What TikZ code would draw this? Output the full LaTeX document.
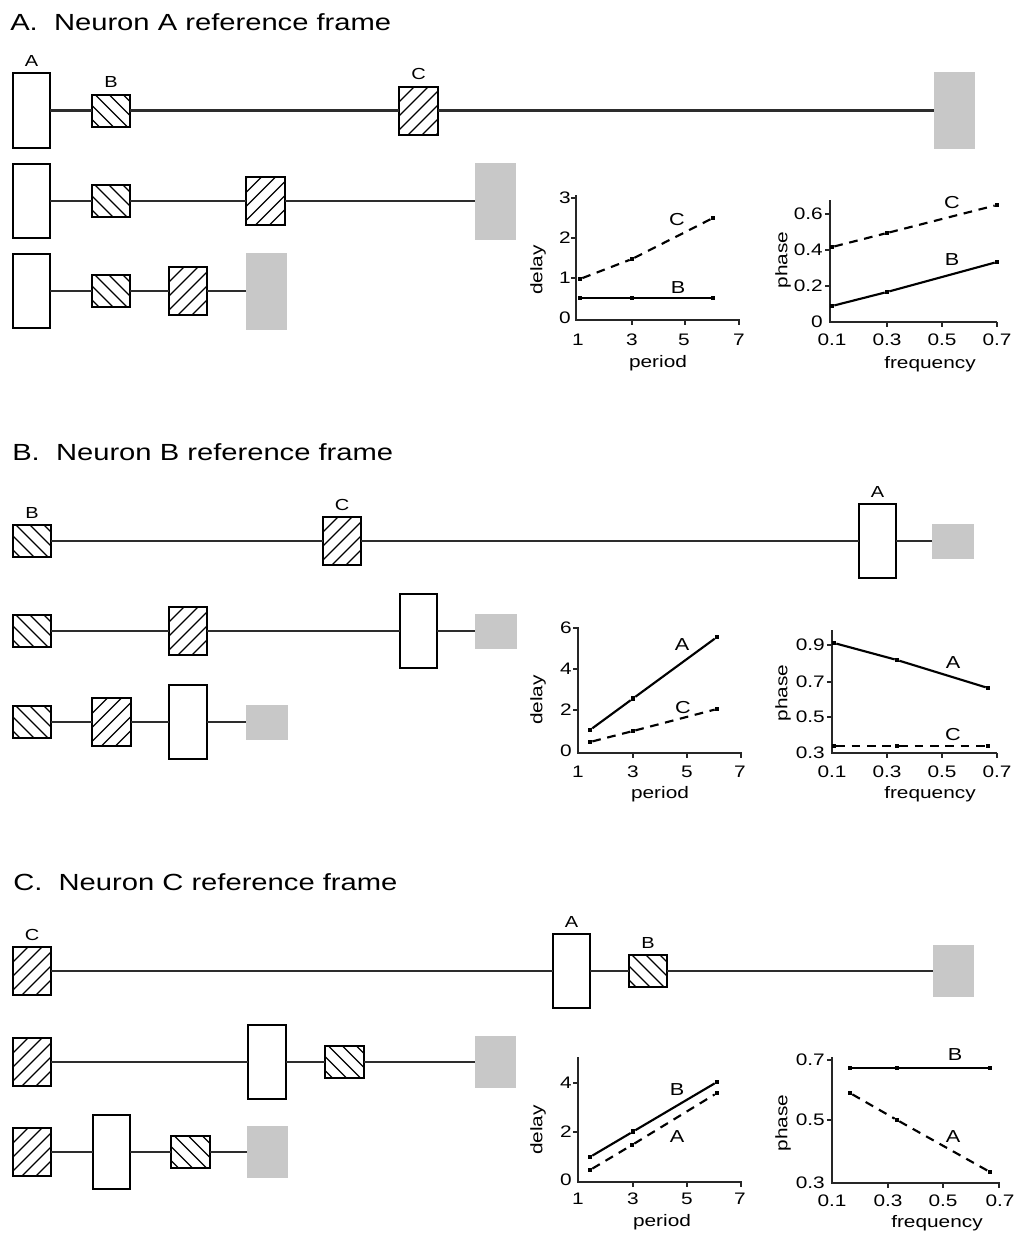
\documentclass[tikz,border=0pt]{standalone}
\usepackage{fontspec}
\setmainfont[FakeStretch=1.25]{Liberation Sans}
\usetikzlibrary{positioning}
\definecolor{greybox}{RGB}{200,200,200}
\definecolor{linec}{RGB}{45,45,45}
\begin{document}
\begin{tikzpicture}[x=0.75pt,y=-0.75pt,
 nbox/.style={draw=black,line width=1.5pt,fill=white,inner sep=0pt,outer sep=0pt},
 boxA/.style={nbox,minimum width=27.8pt,minimum height=55.6pt},
 boxB/.style={nbox,minimum width=28.6pt,minimum height=24pt,
   path picture={\foreach \k in {-4,...,4} \draw[line width=0.85pt] ([xshift=\k*10.5pt]path picture bounding box.center) ++(-30pt,30pt) -- ++(60pt,-60pt);}},
 boxC/.style={nbox,minimum width=28.6pt,minimum height=36pt,
   path picture={\foreach \k in {-5,...,5} \draw[line width=0.85pt] ([xshift=\k*10.5pt]path picture bounding box.center) ++(-30pt,-30pt) -- ++(60pt,60pt);}},
 gbox/.style={fill=greybox,inner sep=0pt,outer sep=0pt},
 gA/.style={gbox,minimum width=30.75pt,minimum height=57.75pt},
 gB/.style={gbox,minimum width=31.5pt,minimum height=26.25pt},
 gC/.style={gbox,minimum width=30.75pt,minimum height=39pt},
 conn/.style={draw=linec,line width=1.6pt},
 blbl/.style={font=\fontsize{12}{14}\selectfont,inner sep=0pt,outer sep=0pt},
 ttl/.style={font=\fontsize{17.5}{20}\selectfont,anchor=base west,inner sep=0pt},
 tlbl/.style={font=\fontsize{12.5}{14}\selectfont,inner sep=0pt},
 ylbl/.style={tlbl,anchor=east},
 xlbl/.style={tlbl,anchor=base},
 axlbl/.style={font=\fontsize{12.5}{14}\selectfont,inner sep=0pt},
 plbl/.style={font=\fontsize{13}{15}\selectfont,inner sep=0pt},
 axis/.style={draw=black!85,line width=2pt},
 tk/.style={draw=black!85,line width=1.2pt},
 dpt/.style={fill=black,inner sep=0pt,minimum size=3.5pt,outer sep=0pt},
 sline/.style={draw=black,line width=1.6pt},
 dline/.style={draw=black,line width=1.6pt,dash pattern=on 6.5pt off 5pt},
]
\useasboundingbox[fill=white] (0,0) rectangle (1017,1235);

% ================= Panel A =================
\node[ttl] (tA) at (10,30.5) {A.\ \ Neuron A reference frame};
% row 1
\node[boxA] (aA1) at (31.5,110.5) {};
\node[boxB] (aB1) at (111,110.5) {};
\node[boxC] (aC1) at (418.5,110.5) {};
\node[gA]   (aG1) at (954,110.5) {};
\draw[conn] (aA1.east) -- (aB1.west) (aB1.east) -- (aC1.west) (aC1.east) -- (aG1.west);
\node[blbl,above=5pt of aA1] {A};
\node[blbl,above=5pt of aB1] {B};
\node[blbl,above=5pt of aC1] {C};
% row 2
\node[boxA] (aA2) at (31.5,201) {};
\node[boxB] (aB2) at (111,201) {};
\node[boxC] (aC2) at (265.5,201) {};
\node[gA]   (aG2) at (495.5,201) {};
\draw[conn] (aA2.east) -- (aB2.west) (aB2.east) -- (aC2.west) (aC2.east) -- (aG2.west);
% row 3
\node[boxA] (aA3) at (31.5,291) {};
\node[boxB] (aB3) at (111,291) {};
\node[boxC] (aC3) at (188,291) {};
\node[gA]   (aG3) at (266,291) {};
\draw[conn] (aA3.east) -- (aB3.west) (aB3.east) -- (aC3.west) (aC3.east) -- (aG3.west);

% chart A1 delay
\draw[axis] (576,195) -- (576,320) -- (740,320);
\foreach \x in {632,685,739} \draw[tk] (\x,320) -- (\x,325);
\foreach \y in {198,238,278} \draw[tk] (576,\y) -- (571,\y);
\foreach \y/\t in {198/3,238/2,278/1,318/0} \node[ylbl] at (571,\y) {\t};
\foreach \x/\t in {578/1,632/3,684/5,739/7} \node[xlbl] at (\x,345) {\t};
\node[axlbl,anchor=base] at (658,367) {period};
\node[axlbl,rotate=90] at (538,270) {delay};
\node[dpt] (a1c1) at (580,279) {};
\node[dpt] (a1c2) at (632,259) {};
\node[dpt] (a1c3) at (713,218) {};
\draw[dline] (a1c1) -- (a1c2) -- (a1c3);
\node[dpt] (a1b1) at (580,298) {};
\node[dpt] (a1b2) at (632,298) {};
\node[dpt] (a1b3) at (713,298) {};
\draw[sline] (a1b1) -- (a1b2) -- (a1b3);
\node[plbl] at (677,220) {C};
\node[plbl] at (678,288) {B};

% chart A2 phase
\draw[axis] (830,200) -- (830,322) -- (997,322);
\foreach \x in {887,942,997} \draw[tk] (\x,322) -- (\x,327);
\foreach \y in {214,250,286} \draw[tk] (830,\y) -- (825,\y);
\foreach \y/\t in {214/0.6,250/0.4,286/0.2,322/0} \node[ylbl] at (823,\y) {\t};
\foreach \x/\t in {832/0.1,887/0.3,942/0.5,997/0.7} \node[xlbl] at (\x,345) {\t};
\node[axlbl,anchor=base] at (930,368) {frequency};
\node[axlbl,rotate=90] at (783,260) {phase};
\node[dpt] (a2c1) at (832,247) {};
\node[dpt] (a2c2) at (887,233) {};
\node[dpt] (a2c3) at (997,205) {};
\draw[dline] (a2c1) -- (a2c2) -- (a2c3);
\node[dpt] (a2b1) at (832,306) {};
\node[dpt] (a2b2) at (887,292) {};
\node[dpt] (a2b3) at (997,262) {};
\draw[sline] (a2b1) -- (a2b2) -- (a2b3);
\node[plbl] at (952,203) {C};
\node[plbl] at (952,260) {B};

% ================= Panel B =================
\node[ttl] (tB) at (12,460.5) {B.\ \ Neuron B reference frame};
% row 1
\node[boxB] (bB1) at (32,541) {};
\node[boxC] (bC1) at (342,541) {};
\node[boxA] (bA1) at (877.5,541) {};
\node[gB]   (bG1) at (953,541) {};
\draw[conn] (bB1.east) -- (bC1.west) (bC1.east) -- (bA1.west) (bA1.east) -- (bG1.west);
\node[blbl,above=5pt of bB1] {B};
\node[blbl,above=5pt of bC1] {C};
\node[blbl,above=5pt of bA1] {A};
% row 2
\node[boxB] (bB2) at (32,631) {};
\node[boxC] (bC2) at (188,631) {};
\node[boxA] (bA2) at (418.5,631) {};
\node[gB]   (bG2) at (495.5,631) {};
\draw[conn] (bB2.east) -- (bC2.west) (bC2.east) -- (bA2.west) (bA2.east) -- (bG2.west);
% row 3
\node[boxB] (bB3) at (32,722) {};
\node[boxC] (bC3) at (111.5,722) {};
\node[boxA] (bA3) at (188,722) {};
\node[gB]   (bG3) at (266.5,722) {};
\draw[conn] (bB3.east) -- (bC3.west) (bC3.east) -- (bA3.west) (bA3.east) -- (bG3.west);

% chart B1 delay
\draw[axis] (578,627) -- (578,753) -- (742,753);
\foreach \x in {633,687,741} \draw[tk] (\x,753) -- (\x,758);
\foreach \y in {628,669,710} \draw[tk] (578,\y) -- (573,\y);
\foreach \y/\t in {628/6,669/4,710/2,751/0} \node[ylbl] at (572,\y) {\t};
\foreach \x/\t in {578/1,633/3,687/5,740/7} \node[xlbl] at (\x,777) {\t};
\node[axlbl,anchor=base] at (660,798) {period};
\node[axlbl,rotate=90] at (538,700) {delay};
\node[dpt] (b1a1) at (590,730) {};
\node[dpt] (b1a2) at (633,698.5) {};
\node[dpt] (b1a3) at (717,637) {};
\draw[sline] (b1a1) -- (b1a2) -- (b1a3);
\node[dpt] (b1c1) at (590,742) {};
\node[dpt] (b1c2) at (633,731) {};
\node[dpt] (b1c3) at (717,709) {};
\draw[dline] (b1c1) -- (b1c2) -- (b1c3);
\node[plbl] at (682,645) {A};
\node[plbl] at (683,708) {C};

% chart B2 phase
\draw[axis] (832,630) -- (832,753) -- (997,753);
\foreach \x in {887,942,997} \draw[tk] (\x,753) -- (\x,758);
\foreach \y in {645,682,717} \draw[tk] (832,\y) -- (827,\y);
\foreach \y/\t in {645/0.9,682/0.7,717/0.5,753/0.3} \node[ylbl] at (825,\y) {\t};
\foreach \x/\t in {832/0.1,887/0.3,942/0.5,997/0.7} \node[xlbl] at (\x,777) {\t};
\node[axlbl,anchor=base] at (930,798) {frequency};
\node[axlbl,rotate=90] at (783,693) {phase};
\node[dpt] (b2a1) at (834,643) {};
\node[dpt] (b2a2) at (897,660) {};
\node[dpt] (b2a3) at (988,688) {};
\draw[sline] (b2a1) -- (b2a2) -- (b2a3);
\node[dpt] (b2c1) at (834,746) {};
\node[dpt] (b2c2) at (897,746) {};
\node[dpt] (b2c3) at (988,746) {};
\draw[dline] (b2c1) -- (b2c2) -- (b2c3);
\node[plbl] at (953,663) {A};
\node[plbl] at (953,735) {C};

% ================= Panel C =================
\node[ttl] (tC) at (13,890.5) {C.\ \ Neuron C reference frame};
% row 1
\node[boxC] (cC1) at (32,971) {};
\node[boxA] (cA1) at (571.5,971) {};
\node[boxB] (cB1) at (648,971) {};
\node[gC]   (cG1) at (953.5,971) {};
\draw[conn] (cC1.east) -- (cA1.west) (cA1.east) -- (cB1.west) (cB1.east) -- (cG1.west);
\node[blbl,above=5pt of cC1] {C};
\node[blbl,above=5pt of cA1] {A};
\node[blbl,above=5pt of cB1] {B};
% row 2
\node[boxC] (cC2) at (32,1062) {};
\node[boxA] (cA2) at (267,1062) {};
\node[boxB] (cB2) at (344.5,1062) {};
\node[gC]   (cG2) at (495.5,1062) {};
\draw[conn] (cC2.east) -- (cA2.west) (cA2.east) -- (cB2.west) (cB2.east) -- (cG2.west);
% row 3
\node[boxC] (cC3) at (32,1152) {};
\node[boxA] (cA3) at (111.5,1152) {};
\node[boxB] (cB3) at (190.5,1152) {};
\node[gC]   (cG3) at (267.5,1152) {};
\draw[conn] (cC3.east) -- (cA3.west) (cA3.east) -- (cB3.west) (cB3.east) -- (cG3.west);

% chart C1 delay
\draw[axis] (578,1057) -- (578,1182) -- (742,1182);
\foreach \x in {633,687,741} \draw[tk] (\x,1182) -- (\x,1187);
\foreach \y in {1083,1132} \draw[tk] (578,\y) -- (573,\y);
\foreach \y/\t in {1083/4,1132/2,1180/0} \node[ylbl] at (572,\y) {\t};
\foreach \x/\t in {578/1,633/3,687/5,740/7} \node[xlbl] at (\x,1204) {\t};
\node[axlbl,anchor=base] at (662,1226) {period};
\node[axlbl,rotate=90] at (538,1130) {delay};
\node[dpt] (c1b1) at (590,1157) {};
\node[dpt] (c1b2) at (633,1131.6) {};
\node[dpt] (c1b3) at (717,1082) {};
\draw[sline] (c1b1) -- (c1b2) -- (c1b3);
\node[dpt] (c1a1) at (590,1170) {};
\node[dpt] (c1a2) at (632,1145) {};
\node[dpt] (c1a3) at (717,1093) {};
\draw[dline] (c1a1) -- (c1a2) -- (c1a3);
\node[plbl] at (677,1090) {B};
\node[plbl] at (677,1137) {A};

% chart C2 phase
\draw[axis] (832,1057) -- (832,1183) -- (1000,1183);
\foreach \x in {888,943,999} \draw[tk] (\x,1183) -- (\x,1188);
\foreach \y in {1060,1120} \draw[tk] (832,\y) -- (827,\y);
\foreach \y/\t in {1060/0.7,1120/0.5,1183/0.3} \node[ylbl] at (825,\y) {\t};
\foreach \x/\t in {832/0.1,888/0.3,943/0.5,1000/0.7} \node[xlbl] at (\x,1206) {\t};
\node[axlbl,anchor=base] at (937,1227) {frequency};
\node[axlbl,rotate=90] at (783,1123) {phase};
\node[dpt] (c2b1) at (850,1068) {};
\node[dpt] (c2b2) at (897,1068) {};
\node[dpt] (c2b3) at (990,1068) {};
\draw[sline] (c2b1) -- (c2b2) -- (c2b3);
\node[dpt] (c2a1) at (850,1093) {};
\node[dpt] (c2a2) at (897,1120) {};
\node[dpt] (c2a3) at (990,1172) {};
\draw[dline] (c2a1) -- (c2a2) -- (c2a3);
\node[plbl] at (955,1055) {B};
\node[plbl] at (953,1137) {A};
\end{tikzpicture}
\end{document}
